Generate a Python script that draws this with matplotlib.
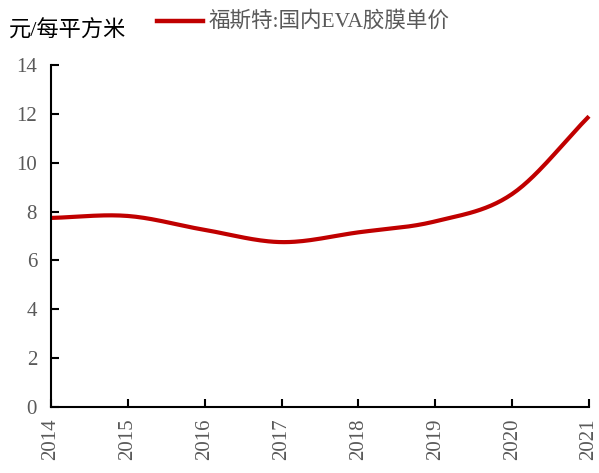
import numpy as np
import matplotlib
matplotlib.use("Agg")
import matplotlib.pyplot as plt

# datos
years = [2014, 2015, 2016, 2017, 2018, 2019, 2020, 2021]
price = [7.74, 7.82, 7.25, 6.75, 7.15, 7.6, 8.72, 11.9]
series_name = "福斯特:国内EVA胶膜单价"
unit_label = "元/每平方米"

plt.rcParams['font.family'] = ['Liberation Serif', 'Noto Sans CJK SC']

# curva suavizada tipo Excel (Catmull-Rom) entre los puntos
def smooth(x, y, n=30):
    x = np.asarray(x, float)
    y = np.asarray(y, float)
    px = np.concatenate([[2 * x[0] - x[1]], x, [2 * x[-1] - x[-2]]])
    py = np.concatenate([[2 * y[0] - y[1]], y, [2 * y[-1] - y[-2]]])
    xs, ys = [], []
    for i in range(1, len(px) - 2):
        t = np.linspace(0, 1, n)
        for arr, out in ((px, xs), (py, ys)):
            p0, p1, p2, p3 = arr[i - 1:i + 3]
            out.extend(0.5 * ((2 * p1) + (-p0 + p2) * t
                              + (2 * p0 - 5 * p1 + 4 * p2 - p3) * t ** 2
                              + (-p0 + 3 * p1 - 3 * p2 + p3) * t ** 3))
    return xs, ys

fig = plt.figure(figsize=(5.99, 4.73), dpi=100)
ax = fig.add_axes([0.0851, 0.1395, 0.8982, 0.7231])

sx, sy = smooth(years, price)
ax.plot(sx, sy, color='#C00000', lw=3, solid_capstyle='butt', clip_on=False)

ax.set_xlim(2014, 2021)
ax.set_ylim(0, 14)
ax.set_xticks(years)
ax.set_xticklabels([str(y) for y in years], rotation=90)
ax.set_yticks(range(0, 15, 2))

for s in ['top', 'right']:
    ax.spines[s].set_visible(False)
for s in ['left', 'bottom']:
    ax.spines[s].set_linewidth(1.5)
ax.tick_params(axis='both', direction='in', length=6, width=1.5,
               labelsize=15, labelcolor='#595959')
ax.tick_params(axis='x', pad=8)
ax.tick_params(axis='y', pad=10)

# leyenda y unidad
fig.lines.append(plt.Line2D([157 / 599, 203 / 599], [1 - 21 / 473, 1 - 21 / 473],
                            color='#C00000', lw=3.2, transform=fig.transFigure))
fig.text(209 / 599, 1 - 21 / 473, series_name, fontsize=15.5, color='#595959',
         va='center', ha='left')
fig.text(9 / 599, 1 - 31 / 473, unit_label, fontsize=16, color='black',
         va='center', ha='left')

fig.savefig("out.png", dpi=100)
